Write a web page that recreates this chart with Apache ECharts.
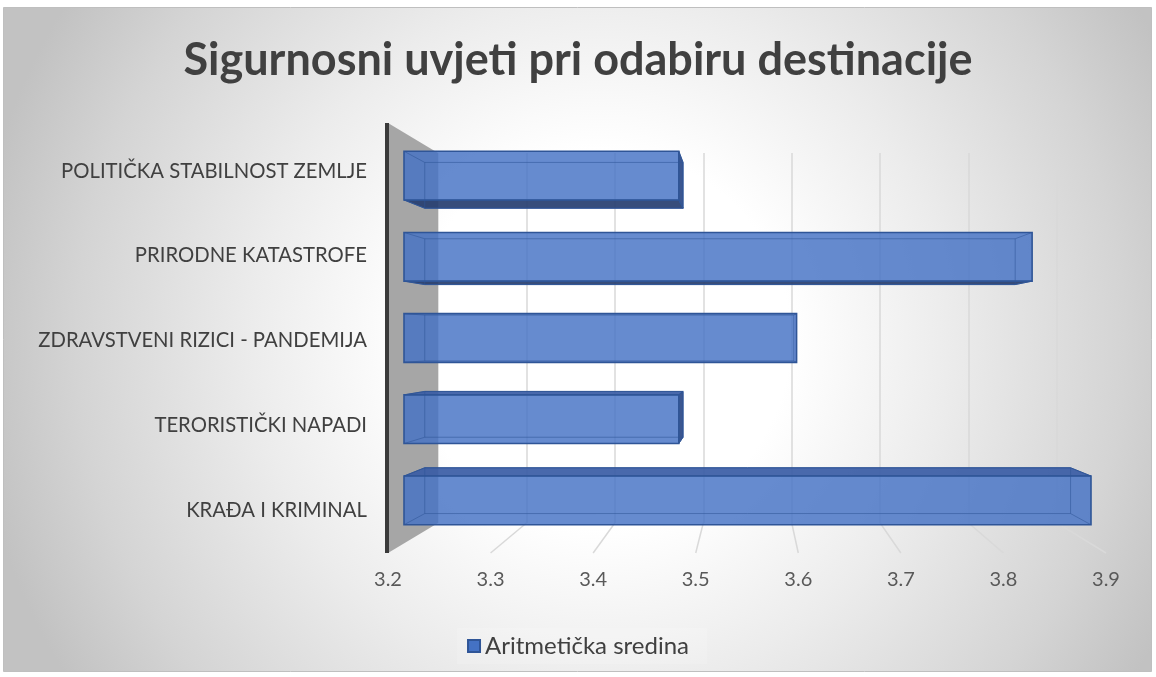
<!DOCTYPE html>
<html>
<head>
<meta charset="utf-8">
<script src="https://cdn.jsdelivr.net/npm/echarts@6/dist/echarts.min.js"></script>
<style>
html,body{margin:0;padding:0;background:#fff;}
#chart{width:1156px;height:677px;}
</style>
</head>
<body>
<div id="chart"></div>
<script>
// ---------- data ----------
const titleText = 'Sigurnosni uvjeti pri odabiru destinacije';
const seriesName = 'Aritmetička sredina';
const categories = [
  'POLITIČKA STABILNOST ZEMLJE',
  'PRIRODNE KATASTROFE',
  'ZDRAVSTVENI RIZICI - PANDEMIJA',
  'TERORISTIČKI NAPADI',
  'KRAĐA I KRIMINAL'
];
const values = [3.48, 3.84, 3.60, 3.48, 3.90];
const xTicks = [3.2, 3.3, 3.4, 3.5, 3.6, 3.7, 3.8, 3.9];

// ---------- layout / style ----------
const axisMin = xTicks[0], axisMax = xTicks[xTicks.length - 1], axisStep = 0.1;
const FONT = 'Lato, "Open Sans", sans-serif';
const VP = [750, 338];   // perspective vanishing point for the 3D boxes
const DEPTH = 0.06;      // box depth as fraction toward VP
const WALL_TOP_FRONT = 123, WALL_TOP_BACK = 153, WALL_BOT_BACK = 523, WALL_BOT_FRONT = 553;

const chart = echarts.init(document.getElementById('chart'), null, {renderer: 'canvas'});

function renderBar(params, api) {
  const v = api.value(0), cat = api.value(1);
  const p0 = api.coord([axisMin, cat]);
  const p1 = api.coord([v, cat]);
  const band = api.size([0, 1])[1];
  const h = band * 0.6;
  const x0 = p0[0], x1 = p1[0], yt = p1[1] - h / 2, yb = p1[1] + h / 2;
  const bk = (p) => [p[0] + (VP[0] - p[0]) * DEPTH, p[1] + (VP[1] - p[1]) * DEPTH];
  const A = [x0, yt], B = [x1, yt], C = [x1, yb], D = [x0, yb];
  const A2 = bk(A), B2 = bk(B), C2 = bk(C), D2 = bk(D);
  const edge = '#2f5597';
  const children = [];
  if (C2[1] > yb) {
    children.push({type: 'polygon', shape: {points: [D, C, C2, D2]},
      style: {fill: 'rgba(38,62,112,0.92)', stroke: edge, lineWidth: 1}});
  }
  if (A2[1] < yt) {
    children.push({type: 'polygon', shape: {points: [A, B, B2, A2]},
      style: {fill: 'rgba(58,92,165,0.92)', stroke: edge, lineWidth: 1}});
  }
  if (B2[0] > x1) {
    children.push({type: 'polygon', shape: {points: [B, C, C2, B2]},
      style: {fill: 'rgba(42,72,135,0.92)', stroke: edge, lineWidth: 1}});
  }
  children.push({type: 'rect', shape: {x: x0, y: yt, width: x1 - x0, height: h},
    style: {fill: 'rgba(68,114,196,0.82)', stroke: edge, lineWidth: 1.6}});
  const faint = 'rgba(47,85,151,0.55)';
  children.push({type: 'polyline', shape: {points: [A2, B2, C2, D2, A2]},
    style: {fill: null, stroke: faint, lineWidth: 1}});
  [[A, A2], [B, B2], [C, C2], [D, D2]].forEach(function (pq) {
    children.push({type: 'line', shape: {x1: pq[0][0], y1: pq[0][1], x2: pq[1][0], y2: pq[1][1]},
      style: {stroke: faint, lineWidth: 1}});
  });
  return {type: 'group', children: children};
}

const option = {
  backgroundColor: '#ffffff',
  animation: false,
  title: {
    text: titleText,
    left: 'center',
    top: 33,
    textStyle: {fontFamily: FONT, fontSize: 45, fontWeight: 'bold', color: '#404040'}
  },
  legend: {
    data: [{name: seriesName, icon: 'rect'}],
    left: 'center',
    top: 628,
    itemWidth: 12,
    itemHeight: 12,
    itemGap: 6,
    textStyle: {fontFamily: FONT, fontSize: 24, color: '#404040'},
    backgroundColor: 'rgba(255,255,255,0.15)',
    padding: [6, 18, 6, 10]
  },
  grid: [
    {left: 404, right: 65, top: 135, height: 406},           // bars (front plane of boxes)
    {left: 438, right: 99, top: WALL_TOP_BACK, height: WALL_BOT_BACK - WALL_TOP_BACK}, // back wall
    {left: 388, right: 50, top: 540, height: WALL_BOT_FRONT - 540}, // floor front edge
    {left: 380, width: 10, top: 128.6, height: 423.75}        // category labels
  ],
  xAxis: [
    {gridIndex: 0, type: 'value', min: axisMin, max: axisMax, interval: axisStep, show: false},
    {gridIndex: 1, type: 'value', min: axisMin, max: axisMax, interval: axisStep,
      axisLine: {show: false}, axisTick: {show: false}, axisLabel: {show: false},
      splitLine: {show: true, lineStyle: {color: '#d9d9d9', width: 1.5}}},
    {gridIndex: 2, type: 'value', min: axisMin, max: axisMax, interval: axisStep,
      axisLine: {show: false}, axisTick: {show: false}, splitLine: {show: false},
      axisLabel: {margin: 17, fontFamily: FONT, fontSize: 20, color: '#595959',
        formatter: function (v) { return v.toFixed(1); }}},
    {gridIndex: 3, type: 'value', min: 0, max: 1, show: false}
  ],
  yAxis: [
    {gridIndex: 0, type: 'category', data: categories, inverse: true, show: false},
    {gridIndex: 1, type: 'value', show: false, splitLine: {show: false}},
    {gridIndex: 2, type: 'value', show: false, splitLine: {show: false}},
    {gridIndex: 3, type: 'category', data: categories, inverse: true,
      axisLine: {show: false}, axisTick: {show: false}, splitLine: {show: false},
      axisLabel: {margin: 13, fontFamily: FONT, fontSize: 20.3, color: '#404040'}}
  ],
  series: [{
    name: seriesName,
    type: 'custom',
    xAxisIndex: 0,
    yAxisIndex: 0,
    renderItem: renderBar,
    encode: {x: 0, y: 1},
    itemStyle: {color: '#4472c4', borderColor: '#2f5597', borderWidth: 1},
    data: values.map(function (v, i) { return [v, i]; }),
    z: 5
  }]
};
chart.setOption(option);

// decorations computed from the axes' own scales
const fx = (v) => chart.convertToPixel({xAxisIndex: 2}, v);
const bx = (v) => chart.convertToPixel({xAxisIndex: 1}, v);
const fx0 = fx(axisMin), bx0 = bx(axisMin);
const graphics = [
  {type: 'rect', z: -100, silent: true,
    shape: {x: 3.5, y: 7.5, width: 1148, height: 664},
    style: {
      fill: new echarts.graphic.RadialGradient(0.52, 0.5, 0.95, [
        {offset: 0, color: '#ffffff'},
        {offset: 0.3, color: '#ffffff'},
        {offset: 0.55, color: '#ececec'},
        {offset: 0.83, color: '#d4d4d4'},
        {offset: 1, color: '#c2c2c2'}
      ]),
      stroke: '#bfbfbf', lineWidth: 1
    }},
  {type: 'polygon', z: 1, silent: true,
    shape: {points: [[fx0, WALL_TOP_FRONT], [bx0, WALL_TOP_BACK], [bx0, WALL_BOT_BACK], [fx0, WALL_BOT_FRONT]]},
    style: {fill: '#a6a6a6'}},
  {type: 'line', z: 3, silent: true,
    shape: {x1: fx0 - 1, y1: WALL_TOP_FRONT, x2: fx0 - 1, y2: WALL_BOT_FRONT},
    style: {stroke: '#3a3a3a', lineWidth: 4}}
];
xTicks.slice(1).forEach(function (v) {
  graphics.push({type: 'line', z: 1, silent: true,
    shape: {x1: bx(v), y1: WALL_BOT_BACK, x2: fx(v), y2: WALL_BOT_FRONT},
    style: {stroke: '#d9d9d9', lineWidth: 1.5}});
});
chart.setOption({graphic: graphics});
</script>
</body>
</html>
